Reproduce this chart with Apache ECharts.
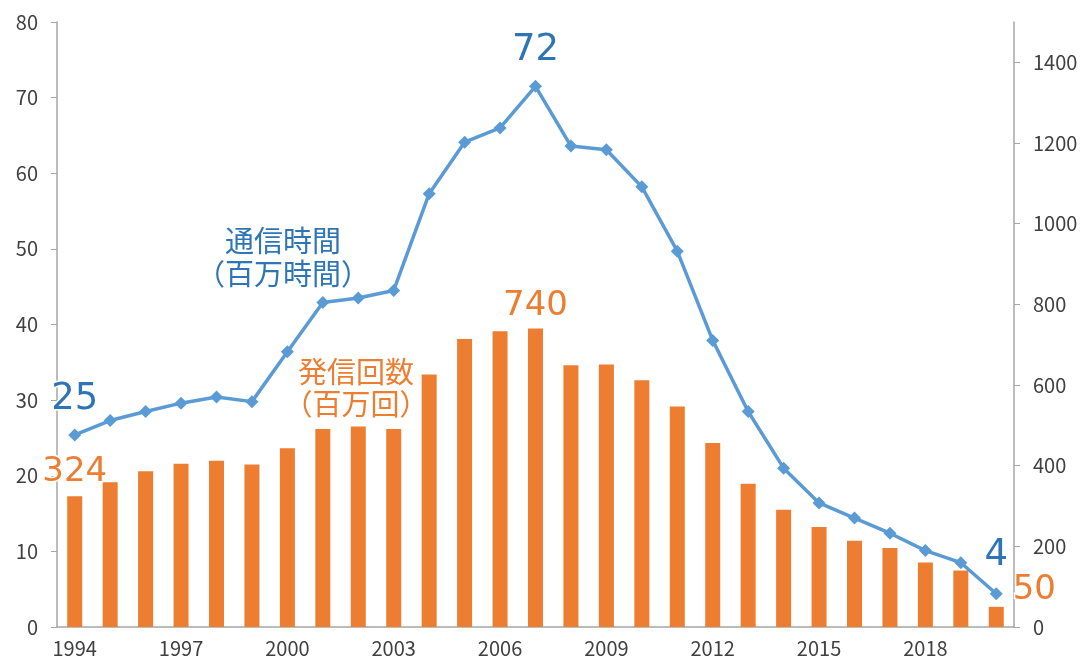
<!DOCTYPE html>
<html>
<head>
<meta charset="utf-8">
<script src="https://cdn.jsdelivr.net/npm/echarts@6/dist/echarts.min.js"></script>
<style>
  html, body { margin: 0; padding: 0; background: #fff; }
  #chart { width: 1082px; height: 663px; }
</style>
</head>
<body>
<div id="chart"></div>
<script>
// 年
const years = ['1994', '1995', '1996', '1997', '1998', '1999', '2000', '2001', '2002',
  '2003', '2004', '2005', '2006', '2007', '2008', '2009', '2010', '2011', '2012',
  '2013', '2014', '2015', '2016', '2017', '2018', '2019', '2020']
// 通信時間（百万時間）
const hours = [25.4, 27.3, 28.5, 29.6, 30.4, 29.8, 36.4, 42.9, 43.5, 44.5, 57.3, 64.1,
  66.0, 71.5, 63.6, 63.1, 58.2, 49.7, 37.9, 28.5, 21.0, 16.4, 14.4, 12.4, 10.1, 8.5, 4.4]
// 発信回数（百万回）
const calls = [324, 359, 386, 405, 412, 403, 443, 491, 497, 491, 626, 714,
  733, 740, 649, 651, 612, 547, 456, 355, 291, 248, 214, 196, 160, 140, 50]
const leftTicks = [0, 10, 20, 30, 40, 50, 60, 70, 80]
const rightTicks = [0, 200, 400, 600, 800, 1000, 1200, 1400]

const blue = '#5B9BD5'
const blueText = '#2E75B6'
const orange = '#ED7D31'
const font = '"Noto Sans CJK JP", "Noto Sans", sans-serif'
const numFont = '"DejaVu Sans", sans-serif'

let hourLabels = {
  0: { distance: 11 },
  13: { distance: 11 },
  26: { distance: 13 }
}
let callLabels = {
  0: { distance: 7 },
  13: { distance: 5 },
  26: { distance: 0, offset: [38, 0] }
}

let myChart = echarts.init(document.getElementById('chart'))
myChart.setOption({
  animation: false,
  textStyle: { fontFamily: font },
  grid: { left: 57, right: 68, top: 22, bottom: 36 },
  xAxis: {
    type: 'category',
    data: years,
    axisLine: { lineStyle: { color: '#a6a6a6', width: 1.5 } },
    axisTick: { interval: 0, length: 6, lineStyle: { color: '#a6a6a6' } },
    axisLabel: { interval: 2, margin: 11, fontSize: 20, color: '#404040', fontFamily: font }
  },
  yAxis: [
    {
      type: 'value',
      min: 0,
      max: 80,
      interval: 10,
      splitLine: { show: false },
      axisLine: { show: true, lineStyle: { color: '#a6a6a6', width: 1.5 } },
      axisTick: { show: true, length: 6, customValues: leftTicks, lineStyle: { color: '#a6a6a6' } },
      axisLabel: { margin: 19, fontSize: 20, color: '#404040', fontFamily: font, customValues: leftTicks }
    },
    {
      type: 'value',
      min: 0,
      max: 1500,
      interval: 100,
      splitLine: { show: false },
      axisLine: { show: true, lineStyle: { color: '#a6a6a6', width: 1.5 } },
      axisTick: { show: true, length: 6, customValues: rightTicks, lineStyle: { color: '#a6a6a6' } },
      axisLabel: {
        margin: 19,
        fontSize: 20,
        color: '#404040',
        fontFamily: font,
        customValues: rightTicks,
        formatter: v => String(v)
      }
    }
  ],
  series: [
    {
      name: '発信回数',
      type: 'bar',
      yAxisIndex: 1,
      barWidth: 15,
      itemStyle: { color: orange },
      data: calls.map((v, i) => {
        let item = { value: v }
        if (callLabels[i]) {
          item.label = Object.assign({
            show: true,
            position: 'top',
            color: orange,
            fontSize: 34,
            fontFamily: numFont,
            textBorderColor: '#fff',
            textBorderWidth: 3
          }, callLabels[i])
        }
        return item
      })
    },
    {
      name: '通信時間',
      type: 'line',
      yAxisIndex: 0,
      symbol: 'diamond',
      symbolSize: 13,
      lineStyle: { color: blue, width: 3.5 },
      itemStyle: { color: blue },
      data: hours.map((v, i) => {
        let item = { value: v }
        if (hourLabels[i]) {
          item.label = Object.assign({
            show: true,
            position: 'top',
            color: blueText,
            fontSize: 37,
            fontFamily: numFont,
            formatter: p => Math.round(p.value),
            textBorderColor: '#fff',
            textBorderWidth: 3
          }, hourLabels[i])
        }
        return item
      })
    }
  ],
  graphic: [
    {
      type: 'text',
      x: 283,
      y: 257,
      style: {
        text: '通信時間\n（百万時間）',
        fill: blueText,
        font: '29px ' + font,
        lineHeight: 33,
        align: 'center',
        verticalAlign: 'middle'
      }
    },
    {
      type: 'text',
      x: 356,
      y: 388,
      style: {
        text: '発信回数\n（百万回）',
        fill: orange,
        font: '29px ' + font,
        lineHeight: 32,
        align: 'center',
        verticalAlign: 'middle'
      }
    }
  ]
})
</script>
</body>
</html>
